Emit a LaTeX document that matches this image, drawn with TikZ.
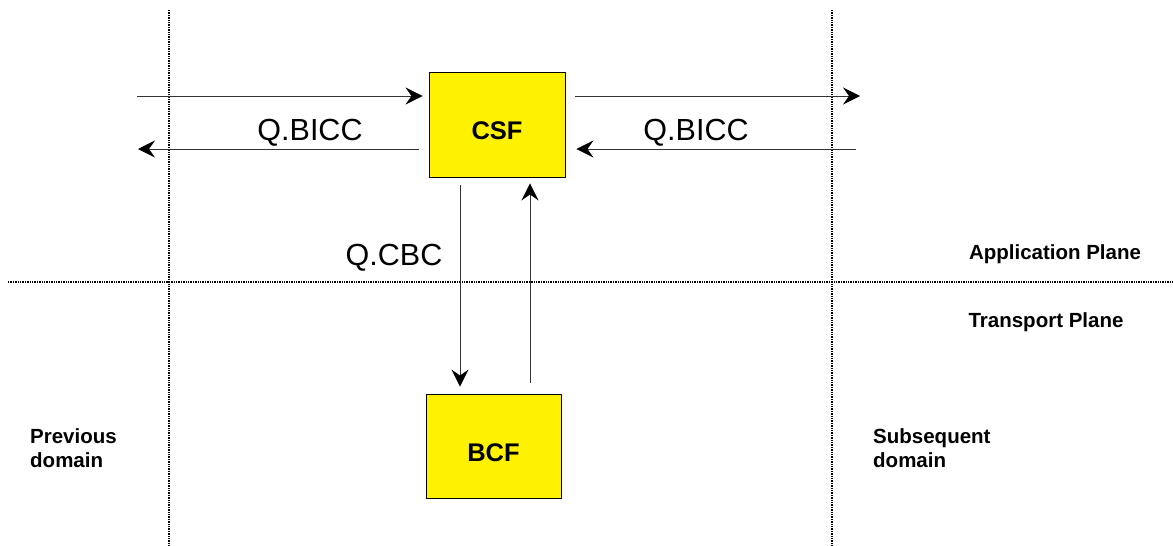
\documentclass[tikz,border=0pt]{standalone}
\usepackage{fontspec}
\setmainfont{Liberation Sans}
\usetikzlibrary{arrows.meta}
\begin{document}
\begin{tikzpicture}[x=1pt,y=-1pt,
  box/.style={draw=black,line width=0.9pt,fill=yellow,inner sep=0pt},
  arr/.style={line width=0.9pt,draw=black!80,-{Stealth[length=17pt,width=17pt,inset=6pt,black]}},
  sep/.style={line width=1.3pt,dash pattern=on 1.4pt off 1pt},
  msg/.style={font=\fontsize{30.5}{33}\selectfont,anchor=base,inner sep=0pt},
  lbl/.style={font=\bfseries\fontsize{20.5}{24}\selectfont,inner sep=0pt}]
\useasboundingbox (0,0) rectangle (1173,546);
% separators
\draw[sep] (169,10) -- (169,546);
\draw[sep] (832,10) -- (832,546);
\draw[sep] (8,282) -- (1173,282);
% boxes
\node[box,minimum width=136pt,minimum height=105pt,label={[font=\bfseries\fontsize{25.5}{28}\selectfont,inner sep=0pt,yshift=-6pt]center:CSF}] (csf) at (497,124.5) {};
\node[box,minimum width=135pt,minimum height=104pt,label={[font=\bfseries\fontsize{25.5}{28}\selectfont,inner sep=0pt,yshift=-7pt]center:BCF}] (bcf) at (493.5,446) {};
% free ends
\coordinate (inL) at (137,96);
\coordinate (outL) at (138,149);
\coordinate (outR) at (860,96);
\coordinate (inR) at (856,149);
% horizontal arrows
\draw[arr,shorten >=6pt] (inL) -- (inL -| csf.west);
\draw[arr,shorten <=10pt] (outL -| csf.west) -- (outL);
\draw[arr,shorten <=10pt] (outR -| csf.east) -- (outR);
\draw[arr,shorten >=11pt] (inR) -- (inR -| csf.east);
% vertical arrows
\draw[arr,shorten <=8pt,shorten >=7pt] (460,0 |- csf.south) -- (460,0 |- bcf.north);
\draw[arr,shorten <=11pt,shorten >=6pt] (530,0 |- bcf.north) -- (530,0 |- csf.south);
% message labels
\node[msg] (q1) at (310,140) {Q.BICC};
\node[msg] (q2) at (696,140) {Q.BICC};
\node[msg] (q3) at (394,265) {Q.CBC};
% plane / domain labels
\node[lbl,anchor=base] (app) at (1055,259) {Application Plane};
\node[lbl,anchor=base] (tra) at (1046,327) {Transport Plane};
\node[lbl,anchor=base west] (prev) at (30,443) {Previous};
\node[lbl,anchor=base west] (prev2) at (30,467) {domain};
\node[lbl,anchor=base west] (subs) at (873,443) {Subsequent};
\node[lbl,anchor=base west] (subs2) at (873,467) {domain};
\end{tikzpicture}
\end{document}
